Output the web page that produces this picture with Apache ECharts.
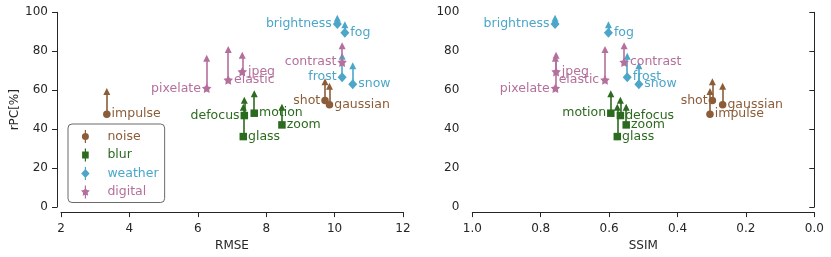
<!DOCTYPE html>
<html><head><meta charset="utf-8">
<script src="https://cdn.jsdelivr.net/npm/echarts@6/dist/echarts.min.js"></script>
<style>html,body{margin:0;padding:0;background:#fff}#c{width:831px;height:257px}</style>
</head><body><div id="c"></div>
<script>
// ---- data ----
const categories = ['noise', 'blur', 'weather', 'digital'];
const names  = ['gaussian','shot','impulse','defocus','glass','motion','zoom','snow','frost','fog','brightness','contrast','elastic','pixelate','jpeg'];
const group  = ['noise','noise','noise','blur','blur','blur','blur','weather','weather','weather','weather','digital','digital','digital','digital'];
const rmse   = [9.85, 9.72, 3.34, 7.36, 7.33, 7.65, 8.46, 10.53, 10.22, 10.30, 10.08, 10.22, 6.89, 6.26, 7.30];
const ssim   = [0.268, 0.298, 0.305, 0.567, 0.576, 0.595, 0.550, 0.513, 0.547, 0.602, 0.758, 0.556, 0.612, 0.757, 0.755];
const rpc    = [52.6, 54.7, 47.7, 47.0, 36.2, 48.2, 42.2, 63.1, 66.7, 89.5, 94.0, 74.4, 65.3, 61.0, 69.5];
const rpcTop = [63.6, 66.0, 61.0, 56.5, 52.8, 59.8, 52.8, 74.2, 79.0, 95.2, 98.6, 84.4, 82.5, 78.0, 79.5];
const yTicks = [0, 20, 40, 60, 80, 100];

// ---- style ----
const colors = { noise: '#8c5c38', blur: '#2c6a1f', weather: '#4ba6c9', digital: '#b46f9c' };
const STAR = 'path://M0,-10 L3.1,-4.3 L9.51,-3.09 L5.0,1.6 L5.88,8.09 L0,5.3 L-5.88,8.09 L-5.0,1.6 L-9.51,-3.09 L-3.1,-4.3 Z';
const symbols = { noise: 'circle', blur: 'rect', weather: 'diamond', digital: STAR };
const sizes = { noise: 7.5, blur: 7.5, weather: [9, 10], digital: 9.5 };
const legendIcons = {
  noise: 'path://M-0.6,-6.5 L0.6,-6.5 L0.6,6.5 L-0.6,6.5 Z M-3.5,0 A3.5,3.5 0 1,1 3.5,0 A3.5,3.5 0 1,1 -3.5,0 Z',
  blur: 'path://M-0.6,-6.5 L0.6,-6.5 L0.6,6.5 L-0.6,6.5 Z M-3.3,-3.6 L3.3,-3.6 L3.3,3.6 L-3.3,3.6 Z',
  weather: 'path://M-0.6,-6.5 L0.6,-6.5 L0.6,6.5 L-0.6,6.5 Z M0,-4.6 L4.2,0 L0,4.6 L-4.2,0 Z',
  digital: 'path://M-0.6,-6.5 L0.6,-6.5 L0.6,6.5 L-0.6,6.5 Z M0,-4.6 L1.4,-2.0 L4.4,-1.4 L2.3,0.7 L2.7,3.7 L0,2.4 L-2.7,3.7 L-2.3,0.7 L-4.4,-1.4 L-1.4,-2.0 Z'
};
const leftLabelled = [
  ['pixelate', 'brightness', 'contrast', 'frost', 'shot', 'defocus'],
  ['brightness', 'pixelate', 'elastic', 'motion', 'shot']
];
const FONT = 'DejaVu Sans';
const INK = '#262626';

const grids = [
  { left: 61, top: 12.3, width: 342, height: 195 },
  { left: 472.3, top: 12.3, width: 342, height: 195 }
];

function yAxis(i) {
  return {
    gridIndex: i, type: 'value', min: 0, max: 100, interval: 20, offset: 4,
    name: i === 0 ? 'rPC[%]' : '', nameLocation: 'middle', nameGap: 36,
    nameTextStyle: { fontFamily: FONT, fontSize: 12, color: INK },
    axisLine: { show: true, lineStyle: { color: INK, width: 1 } },
    axisTick: { show: true, length: 5, lineStyle: { color: INK } },
    axisLabel: { fontFamily: FONT, fontSize: 12, color: INK, margin: 9 },
    splitLine: { show: false }
  };
}
function xAxis(i) {
  const base = {
    gridIndex: i, type: 'value', offset: 5, nameLocation: 'middle', nameGap: 25,
    nameTextStyle: { fontFamily: FONT, fontSize: 12, color: INK },
    axisLine: { show: true, onZero: false, lineStyle: { color: INK, width: 1 } },
    axisTick: { show: true, length: 5, lineStyle: { color: INK } },
    axisLabel: { fontFamily: FONT, fontSize: 12, color: INK, margin: 11 },
    splitLine: { show: false }
  };
  if (i === 0) return Object.assign(base, { name: 'RMSE', min: 2, max: 12, interval: 2 });
  return Object.assign(base, { name: 'SSIM', min: 0, max: 1, interval: 0.2, inverse: true,
    axisLabel: Object.assign({}, base.axisLabel, { formatter: v => v.toFixed(1) }) });
}

const series = [];
[rmse, ssim].forEach((xs, p) => {
  categories.forEach(cat => {
    const idx = names.map((n, k) => k).filter(k => group[k] === cat);
    series.push({
      name: cat + '-arrow-' + p, type: 'lines', coordinateSystem: 'cartesian2d',
      xAxisIndex: p, yAxisIndex: p, polyline: false, silent: true, z: 2,
      symbol: ['none', 'triangle'], symbolSize: [0, 7],
      lineStyle: { color: colors[cat], width: 1.6, opacity: 1, curveness: 0 },
      data: idx.map(k => ({ coords: [[xs[k], rpc[k]], [xs[k], rpcTop[k] - 1.6]] }))
    });
    series.push({
      name: cat, type: 'scatter', xAxisIndex: p, yAxisIndex: p, z: 3,
      symbol: symbols[cat], symbolSize: sizes[cat],
      itemStyle: { color: colors[cat], opacity: 1 },
      label: { show: true, formatter: '{b}', color: colors[cat], fontFamily: FONT, fontSize: 12.5, distance: 1 },
      data: idx.map(k => ({
        name: names[k], value: [xs[k], rpc[k]],
        label: { position: leftLabelled[p].includes(names[k]) ? 'left' : 'right' }
      }))
    });
  });
});

const chart = echarts.init(document.getElementById('c'), null, { renderer: 'canvas' });
chart.setOption({
  animation: false,
  backgroundColor: '#fff',
  grid: grids,
  xAxis: [xAxis(0), xAxis(1)],
  yAxis: [yAxis(0), yAxis(1)],
  legend: {
    orient: 'vertical', left: 68, top: 124,
    padding: [6, 6, 4, 13], itemGap: 5.5, itemWidth: 14, itemHeight: 13,
    borderColor: '#444', borderWidth: 0.8, borderRadius: 4, backgroundColor: '#fff',
    selectedMode: false,
    data: categories.map(c => ({ name: c, icon: legendIcons[c], itemStyle: { color: colors[c] },
      textStyle: { color: colors[c], fontFamily: FONT, fontSize: 12.5, padding: [0, 0, 0, 10] } }))
  },
  series: series
});
</script></body></html>
